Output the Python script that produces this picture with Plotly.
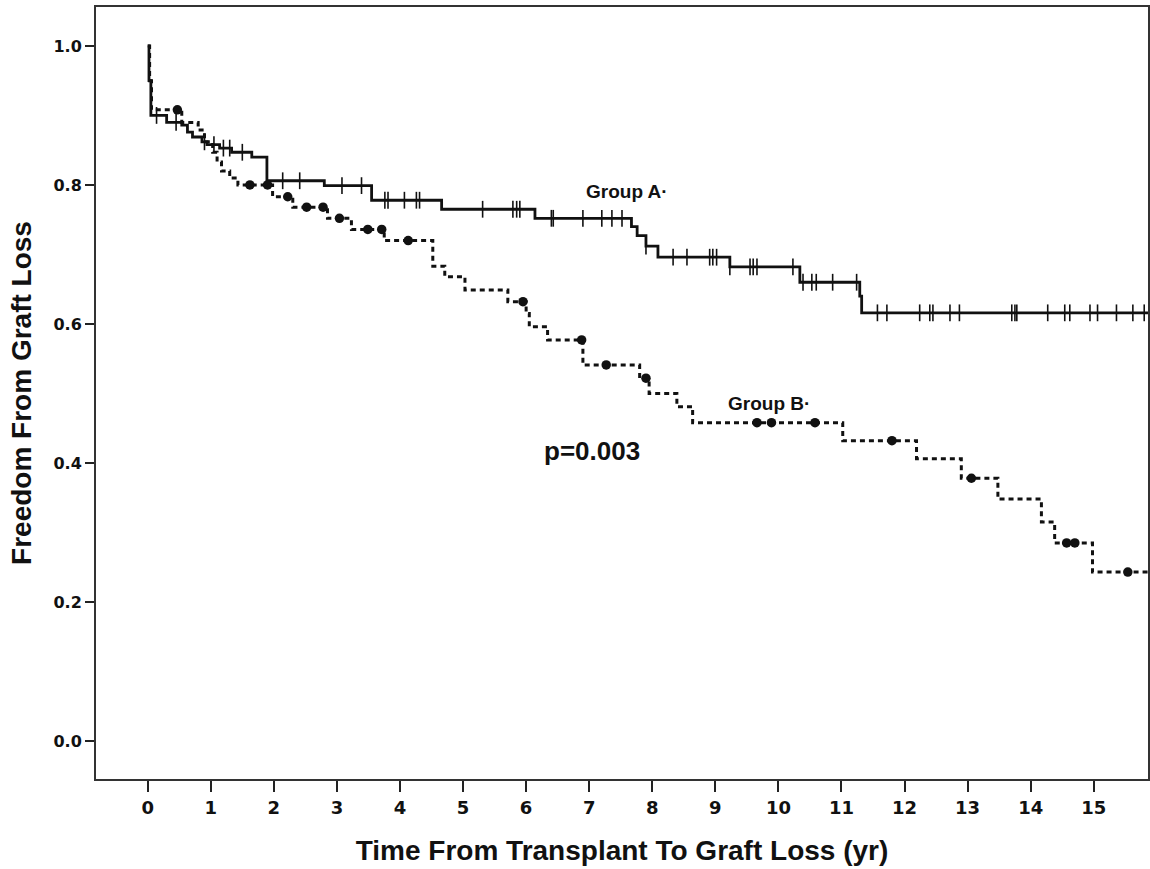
import numpy as np
import plotly.graph_objects as go

# ---------------- data ----------------
FOLLOW_UP_END = 15.9

# Group A: Kaplan-Meier step function (time in years, survival)
a_times = [0.0, 0.02, 0.05, 0.30, 0.54, 0.63, 0.71, 0.86, 0.94, 1.14, 1.33, 1.65,
           1.89, 2.80, 3.55, 4.66, 6.14, 7.67, 7.76, 7.90, 8.09, 9.23, 10.34, 11.29, 11.32]
a_surv = [1.0, 0.95, 0.900, 0.890, 0.886, 0.876, 0.869, 0.862, 0.858, 0.853, 0.847, 0.840,
          0.806, 0.799, 0.778, 0.765, 0.752, 0.740, 0.727, 0.712, 0.696, 0.682, 0.660, 0.640, 0.616]
a_censored = [0.14, 0.45, 0.90, 1.05, 1.20, 1.30, 1.50, 2.14, 2.41, 3.08, 3.39, 3.76, 3.81,
              4.07, 4.26, 4.31, 5.31, 5.79, 5.85, 5.90, 6.40, 6.43, 6.90, 7.20, 7.36, 7.52,
              7.90, 8.33, 8.55, 8.91, 8.96, 9.02, 9.23, 9.55, 9.60, 9.66, 10.23, 10.39, 10.53,
              10.60, 10.86, 11.24, 11.57, 11.72, 12.24, 12.40, 12.45, 12.72, 12.87, 13.70,
              13.75, 13.78, 14.27, 14.54, 14.62, 14.94, 15.06, 15.36, 15.62, 15.80]

# Group B
b_times = [0.0, 0.03, 0.06, 0.54, 0.80, 0.90, 1.03, 1.10, 1.17, 1.30, 1.43, 1.98, 2.30,
           2.85, 3.23, 3.75, 4.52, 4.71, 5.03, 5.71, 6.00, 6.05, 6.34, 6.90, 7.80, 7.95,
           8.39, 8.64, 11.02, 12.19, 12.90, 13.48, 14.17, 14.38, 14.98]
b_surv = [1.0, 0.95, 0.908, 0.890, 0.879, 0.862, 0.847, 0.833, 0.820, 0.810, 0.800, 0.783,
          0.768, 0.752, 0.736, 0.720, 0.683, 0.668, 0.649, 0.632, 0.615, 0.596, 0.577, 0.541,
          0.522, 0.500, 0.481, 0.458, 0.432, 0.406, 0.378, 0.348, 0.315, 0.285, 0.243]
b_censored = [0.47, 1.62, 1.90, 2.22, 2.52, 2.78, 3.04, 3.49, 3.71, 4.13, 5.95, 6.88, 7.27,
              7.90, 9.66, 9.89, 10.58, 11.80, 13.06, 14.57, 14.70, 15.54]

x_ticks = list(range(0, 16))
y_ticks = [0.0, 0.2, 0.4, 0.6, 0.8, 1.0]
y_ticklabels = ["0.0", "0.2", "0.4", "0.6", "0.8", "1.0"]

group_a_label = "Group A·"
group_b_label = "Group B·"
p_label = "p=0.003"
x_title = "Time From Transplant To Graft Loss (yr)"
y_title = "Freedom From Graft Loss"


def step_value(times, surv, t):
    idx = np.searchsorted(np.asarray(times), t, side="right") - 1
    return np.asarray(surv)[idx]


def extend(times, surv):
    return list(times) + [FOLLOW_UP_END], list(surv) + [surv[-1]]


fig = go.Figure()

ax, ay = extend(a_times, a_surv)
bx, by = extend(b_times, b_surv)

INK = "#111111"

fig.add_trace(go.Scatter(x=bx, y=by, mode="lines", line_shape="hv",
                         line=dict(color=INK, width=3, dash="5px,4px"),
                         name="Group B", showlegend=False, hoverinfo="skip"))
fig.add_trace(go.Scatter(x=ax, y=ay, mode="lines", line_shape="hv",
                         line=dict(color=INK, width=2.8),
                         name="Group A", showlegend=False, hoverinfo="skip"))

fig.add_trace(go.Scatter(x=a_censored, y=step_value(a_times, a_surv, a_censored),
                         mode="markers",
                         marker=dict(symbol="line-ns", size=12,
                                     line=dict(color=INK, width=1.6)),
                         showlegend=False, hoverinfo="skip"))
fig.add_trace(go.Scatter(x=b_censored, y=step_value(b_times, b_surv, b_censored),
                         mode="markers",
                         marker=dict(symbol="circle", size=9.5, color=INK),
                         showlegend=False, hoverinfo="skip"))

fig.add_annotation(x=7.6, y=0.79, text=group_a_label, showarrow=False,
                   font=dict(family="Liberation Sans, Arial", size=19, color=INK, weight="bold"))
fig.add_annotation(x=9.85, y=0.485, text=group_b_label, showarrow=False,
                   font=dict(family="Liberation Sans, Arial", size=19, color=INK, weight="bold"))
fig.add_annotation(x=7.04, y=0.417, text=p_label, showarrow=False,
                   font=dict(family="Liberation Sans, Arial", size=26, color=INK, weight="bold"))

fig.update_layout(
    width=1150, height=869,
    margin=dict(l=96, r=2, t=7, b=90),
    paper_bgcolor="white", plot_bgcolor="white",
    xaxis=dict(range=[-0.82, 15.86], tickvals=x_ticks, ticks="outside", ticklen=11,
               tickwidth=2, tickcolor="#222", showline=True, mirror=True,
               linecolor="#333", linewidth=2, showgrid=False, zeroline=False,
               tickfont=dict(family="DejaVu Sans", size=18, color=INK, weight="bold"),
               title=dict(text=x_title, standoff=24,
                          font=dict(family="Liberation Sans, Arial", size=28, color=INK,
                                    weight="bold")),
               automargin=False),
    yaxis=dict(range=[-0.0547, 1.056], tickvals=y_ticks, ticktext=y_ticklabels,
               ticks="outside", ticklen=9, tickwidth=2, tickcolor="#222",
               showline=True, mirror=True, linecolor="#333", linewidth=2,
               showgrid=False, zeroline=False,
               tickfont=dict(family="DejaVu Sans", size=16, color=INK, weight="bold"),
               title=dict(text=y_title, standoff=14,
                          font=dict(family="Liberation Sans, Arial", size=28, color=INK,
                                    weight="bold")),
               automargin=False),
)

fig.write_html("out.html", config={"displayModeBar": False},
               post_script="document.body.style.margin='0';document.body.style.overflow='hidden';")
